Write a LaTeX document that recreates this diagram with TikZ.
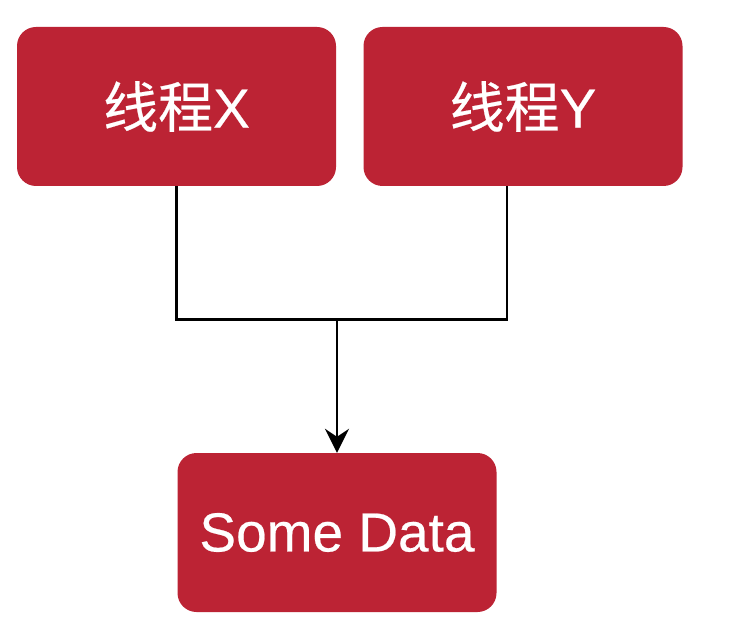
\documentclass[tikz,border=0pt]{standalone}
\usepackage{fontspec}
\setmainfont{Liberation Sans}[FakeBold=0.4]
\newfontfamily\cjk{Noto Sans CJK SC}[FakeBold=0.4]
\usetikzlibrary{arrows.meta}
\definecolor{boxred}{RGB}{188,35,52}
\begin{document}
\begin{tikzpicture}[x=1pt,y=-1pt,
  redbox/.style={fill=boxred, draw=none, rounded corners=19pt, minimum width=319pt, minimum height=159pt, text=white, font=\fontsize{55}{60}\selectfont, inner sep=0pt},
  conn/.style={draw=black, line width=2.2pt}]
\useasboundingbox (0,0) rectangle (754,644);
\fill[white] (0,0) rectangle (754,644);
\node[redbox] (x) at (176.5,106.5) {{\cjk 线程}X};
\node[redbox] (y) at (523,106.5) {{\cjk 线程}Y};
\node[redbox] (d) at (337,532.5) {Some Data};
\coordinate (j) at (337,319.5);
\draw[conn] (x.south) |- (j) -| (y.south -| 507,0);
\draw[conn, -{Stealth[length=24pt,width=24pt,inset=8pt]}] (j) -- (d.north);
\end{tikzpicture}
\end{document}
